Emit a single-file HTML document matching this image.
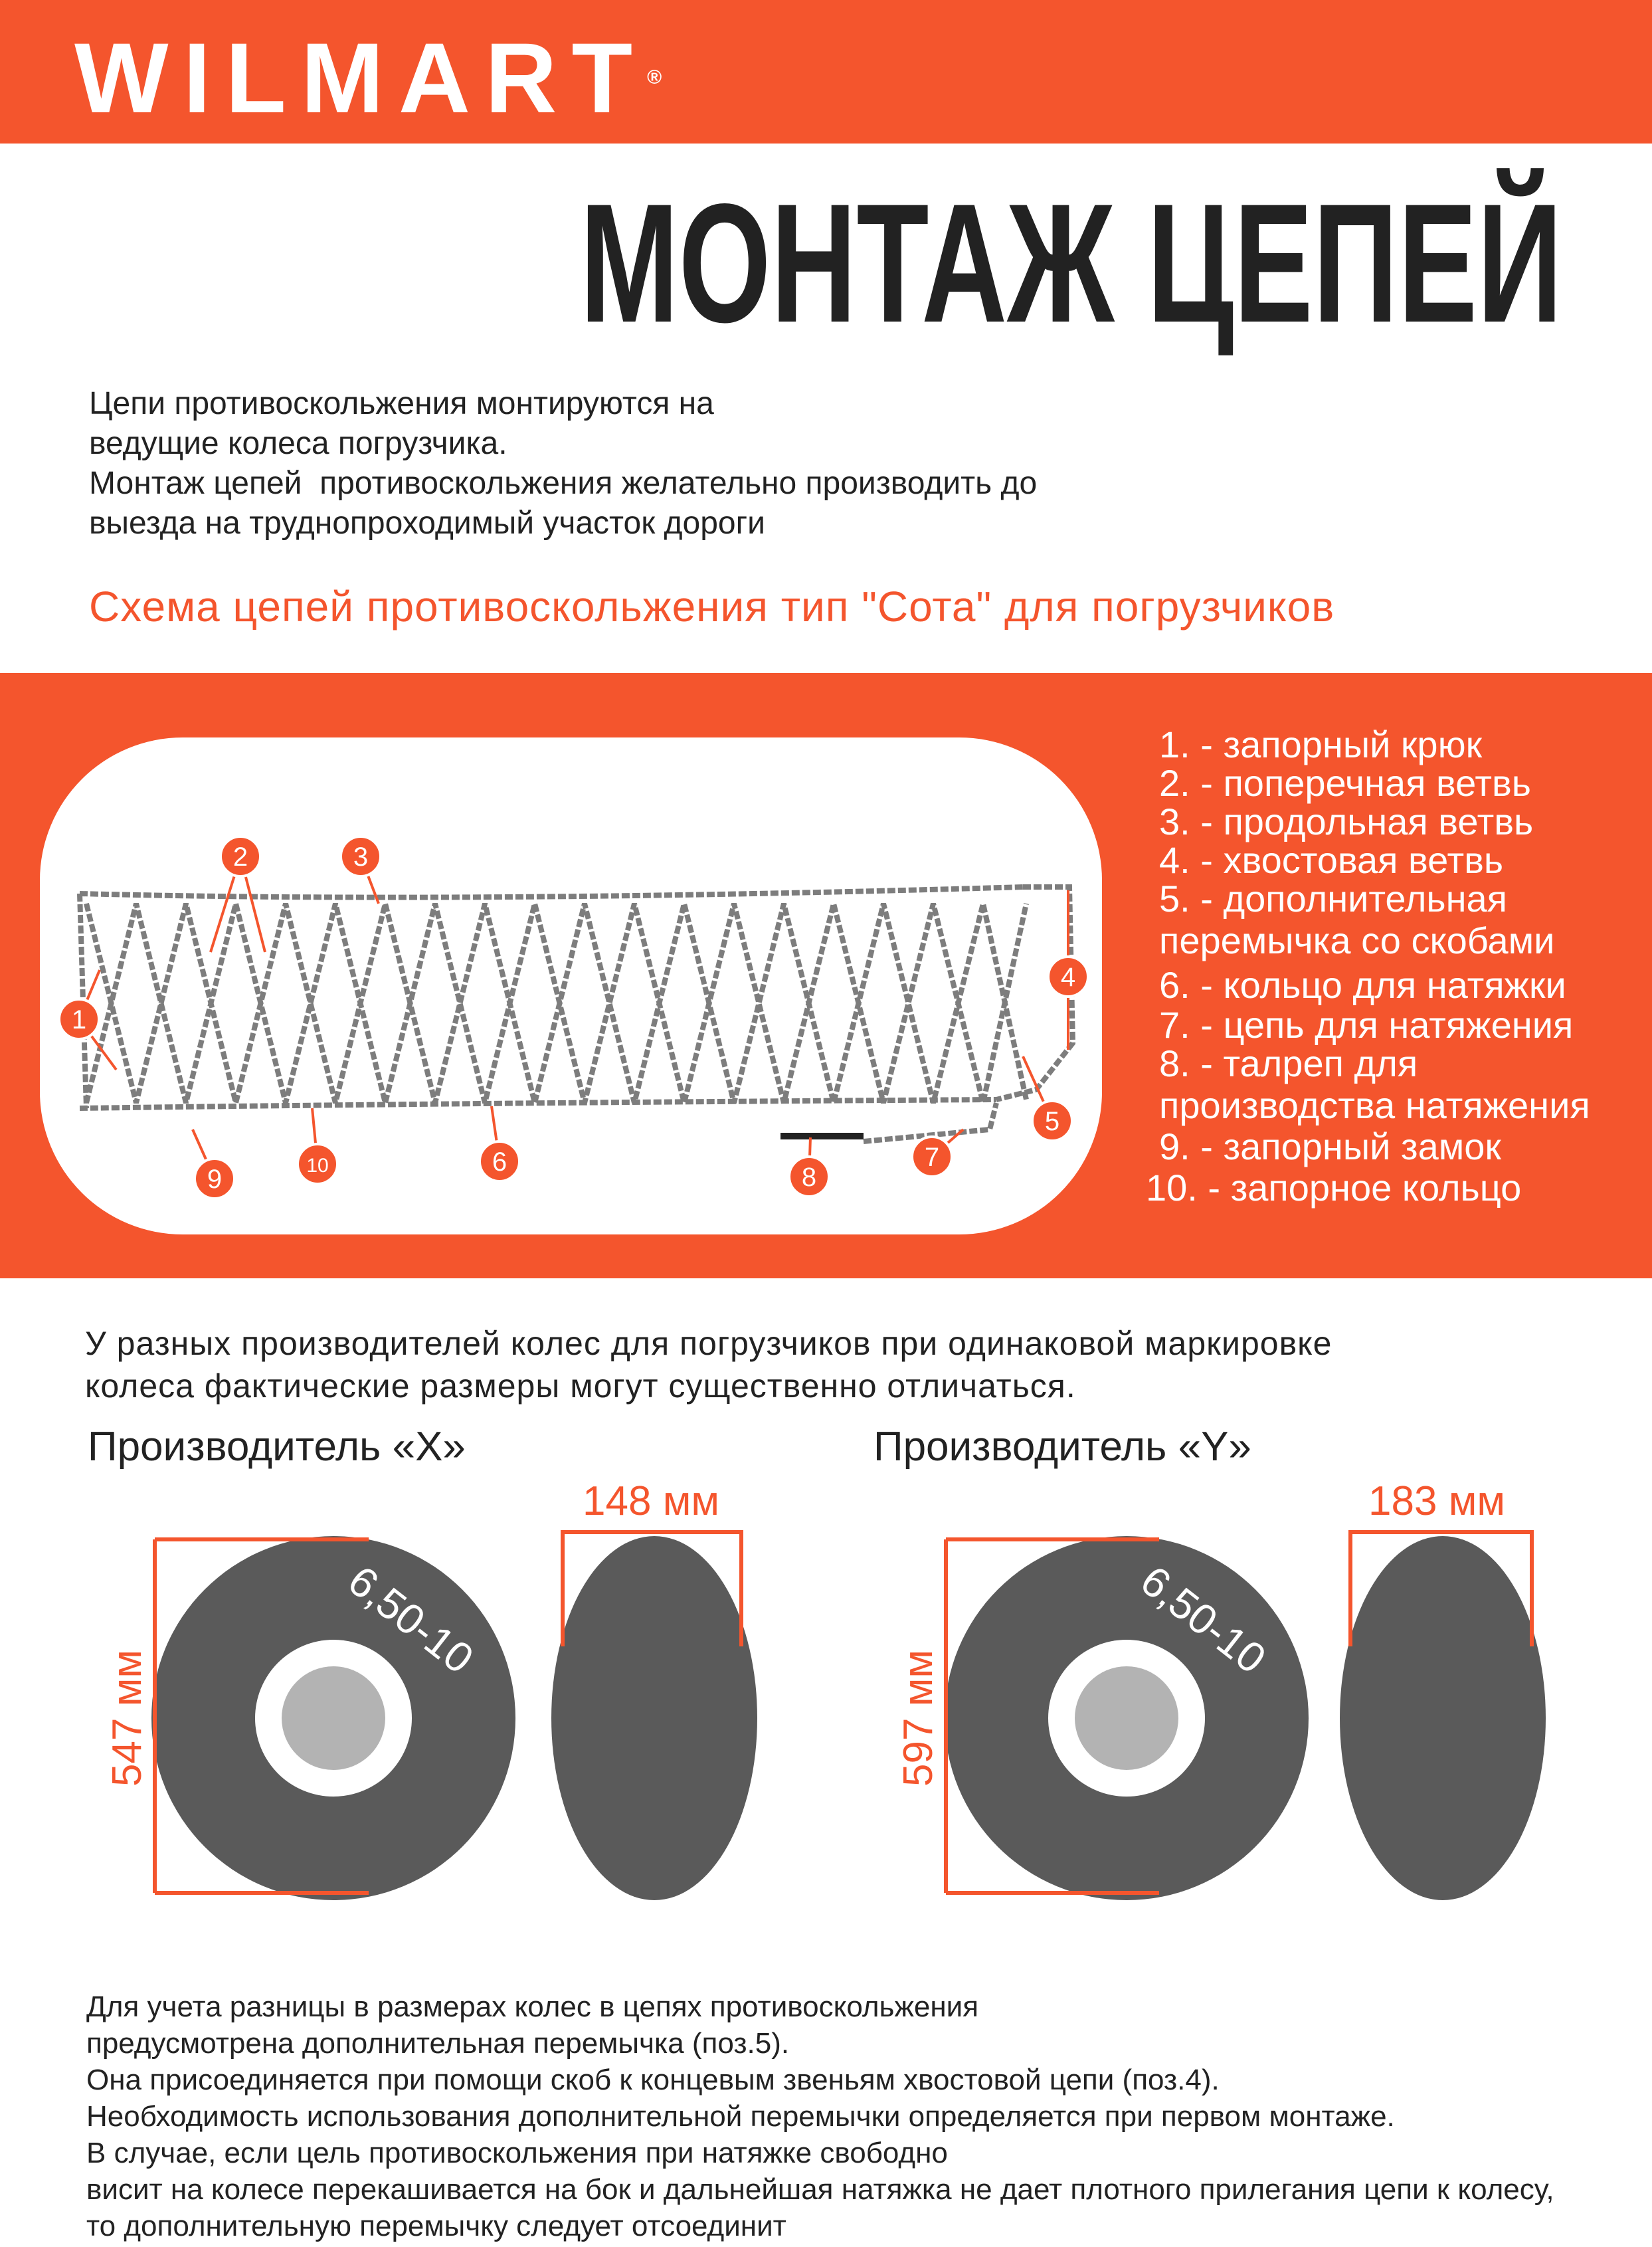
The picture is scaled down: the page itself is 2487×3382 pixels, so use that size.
<!DOCTYPE html>
<html><head><meta charset="utf-8"><style>
html,body{margin:0;padding:0}
body{width:2487px;height:3382px;position:relative;background:#fff;font-family:"Liberation Sans",sans-serif;overflow:hidden}
.a{position:absolute;white-space:nowrap}
.p{font-size:48px;color:#222;left:134px;line-height:60px}
.lg{color:#fff;font-size:56px;left:1745px}
.b{font-size:44px;color:#222;left:130px}
</style></head><body>
<div class="a" style="left:0;top:0;width:2487px;height:216px;background:#f4552d"></div>
<div class="a" style="left:112px;top:42px;font-size:150px;font-weight:bold;color:#fff;letter-spacing:22px;line-height:150px">WILMART<span style="font-size:30px;vertical-align:top;letter-spacing:0">®</span></div>
<div class="a" style="left:873px;top:262px;font-size:255px;font-weight:bold;color:#222;line-height:270px;transform:scaleX(0.7);transform-origin:0 0">МОНТАЖ ЦЕПЕЙ</div>
<div class="a p" style="top:578px">Цепи противоскольжения монтируются на<br>ведущие колеса погрузчика.<br>Монтаж цепей&nbsp; противоскольжения желательно производить до<br>выезда на труднопроходимый участок дороги</div>
<div class="a" style="left:134px;top:876px;font-size:64px;letter-spacing:1px;color:#f4552d">Схема цепей противоскольжения тип "Сота" для погрузчиков</div>
<div class="a" style="left:0;top:1013px;width:2487px;height:911px;background:#f4552d"></div>
<div class="a" style="left:60px;top:1110px;width:1599px;height:748px;background:#fff;border-radius:215px"></div>
<svg class="a" style="left:0;top:1013px" width="1700" height="911" viewBox="0 1013 1700 911">
<g fill="none" stroke="#7d7d7d" stroke-width="8" stroke-dasharray="12 4">
<path d="M120 1345 Q700 1360 1540 1335"/>
<path d="M120 1668 Q700 1660 1500 1655"/>
<path d="M1540 1335 L1610 1335 L1615 1570 L1560 1640 L1500 1655"/>
<path d="M120 1345 L130 1668"/>
<path d="M130 1360 L205 1660 L280 1360 L355 1660 L430 1360 L505 1660 L580 1360 L655 1660 L730 1360 L805 1660 L880 1360 L955 1660 L1030 1360 L1105 1660 L1180 1360 L1255 1660 L1330 1360 L1405 1660 L1480 1360 L1545 1655"/>
<path d="M130 1660 L205 1360 L280 1660 L355 1360 L430 1660 L505 1360 L580 1660 L655 1360 L730 1660 L805 1360 L880 1660 L955 1360 L1030 1660 L1105 1360 L1180 1660 L1255 1360 L1330 1660 L1405 1360 L1480 1660 L1545 1360"/>
<path d="M1300 1718 L1490 1700 L1500 1660"/>
</g>
<path d="M1175 1710 L1300 1710" stroke="#222" stroke-width="10"/>
<g stroke="#f4552d" stroke-width="4" fill="none">
<path d="M362 1289 L317 1433 M362 1289 L399 1433 M543 1289 L570 1360 M119 1534 L150 1460 M119 1534 L175 1610 M1608 1470 L1608 1340 M1608 1470 L1608 1580 M1584 1687 L1540 1590 M752 1748 L740 1665 M1403 1741 L1450 1700 M1218 1771 L1220 1712 M323 1774 L290 1700 M478 1752 L470 1668"/>
</g>
<g fill="#f4552d" stroke="#fff" stroke-width="4">
<circle cx="362" cy="1289" r="30"/><circle cx="543" cy="1289" r="30"/><circle cx="119" cy="1534" r="30"/><circle cx="1608" cy="1470" r="30"/><circle cx="1584" cy="1687" r="30"/><circle cx="752" cy="1748" r="30"/><circle cx="1403" cy="1741" r="30"/><circle cx="1218" cy="1771" r="30"/><circle cx="323" cy="1774" r="30"/><circle cx="478" cy="1752" r="30"/>
</g>
<g fill="#fff" font-family="Liberation Sans" font-size="40" text-anchor="middle">
<text x="362" y="1303">2</text><text x="543" y="1303">3</text><text x="119" y="1548">1</text><text x="1608" y="1484">4</text><text x="1584" y="1701">5</text><text x="752" y="1762">6</text><text x="1403" y="1755">7</text><text x="1218" y="1785">8</text><text x="323" y="1788">9</text><text x="478" y="1764" font-size="30">10</text>
</g>
</svg>
<div class="a lg" style="top:1088px">1. - запорный крюк</div>
<div class="a lg" style="top:1146px">2. - поперечная ветвь</div>
<div class="a lg" style="top:1204px">3. - продольная ветвь</div>
<div class="a lg" style="top:1262px">4. - хвостовая ветвь</div>
<div class="a lg" style="top:1320px">5. - дополнительная</div>
<div class="a lg" style="top:1383px">перемычка со скобами</div>
<div class="a lg" style="top:1450px">6. - кольцо для натяжки</div>
<div class="a lg" style="top:1510px">7. - цепь для натяжения</div>
<div class="a lg" style="top:1568px">8. - талреп для</div>
<div class="a lg" style="top:1631px">производства натяжения</div>
<div class="a lg" style="top:1693px">9. - запорный замок</div>
<div class="a lg" style="top:1755px;left:1725px">10. - запорное кольцо</div>
<div class="a" style="left:128px;top:1990px;font-size:50px;letter-spacing:1px;color:#222;line-height:64px">У разных производителей колес для погрузчиков при одинаковой маркировке<br>колеса фактические размеры могут существенно отличаться.</div>
<div class="a" style="left:132px;top:2142px;font-size:62px;color:#222">Производитель «X»</div>
<div class="a" style="left:1315px;top:2142px;font-size:62px;color:#222">Производитель «Y»</div>
<svg class="a" style="left:0;top:2200px" width="2487" height="700" viewBox="0 2200 2487 700">
<g fill="#5a5a5a"><circle cx="502" cy="2586" r="274"/><ellipse cx="985" cy="2586" rx="155" ry="274"/><circle cx="1696" cy="2586" r="274"/><ellipse cx="2172" cy="2586" rx="155" ry="274"/></g>
<circle cx="502" cy="2586" r="118" fill="#fff"/><circle cx="502" cy="2586" r="78" fill="#b3b3b3"/>
<circle cx="1696" cy="2586" r="118" fill="#fff"/><circle cx="1696" cy="2586" r="78" fill="#b3b3b3"/>
<g stroke="#f4552d" stroke-width="6" fill="none">
<path d="M233 2317 L233 2849 M233 2317 L555 2317 M233 2849 L555 2849"/>
<path d="M847 2478 L847 2306 L1116 2306 L1116 2478"/>
<path d="M1424 2317 L1424 2849 M1424 2317 L1745 2317 M1424 2849 L1745 2849"/>
<path d="M2033 2478 L2033 2306 L2306 2306 L2306 2478"/>
</g>
<g fill="#f4552d" font-family="Liberation Sans" font-size="62" text-anchor="middle">
<text x="980" y="2280">148 мм</text><text x="2163" y="2280">183 мм</text>
<text transform="translate(212 2586) rotate(-90)">547 мм</text>
<text transform="translate(1403 2586) rotate(-90)">597 мм</text>
</g>
<g fill="#fff" font-family="Liberation Sans" font-size="64" text-anchor="middle">
<text transform="translate(605 2455) rotate(38)">6,50-10</text>
<text transform="translate(1798 2455) rotate(38)">6,50-10</text>
</g>
</svg>
<div class="a b" style="top:2996px">Для учета разницы в размерах колес в цепях противоскольжения</div>
<div class="a b" style="top:3051px">предусмотрена дополнительная перемычка (поз.5).</div>
<div class="a b" style="top:3106px">Она присоединяется при помощи скоб к концевым звеньям хвостовой цепи (поз.4).</div>
<div class="a b" style="top:3161px">Необходимость использования дополнительной перемычки определяется при первом монтаже.</div>
<div class="a b" style="top:3216px">В случае, если цель противоскольжения при натяжке свободно</div>
<div class="a b" style="top:3271px">висит на колесе перекашивается на бок и дальнейшая натяжка не дает плотного прилегания цепи к колесу,</div>
<div class="a b" style="top:3326px">то дополнительную перемычку следует отсоединит</div>
</body></html>
